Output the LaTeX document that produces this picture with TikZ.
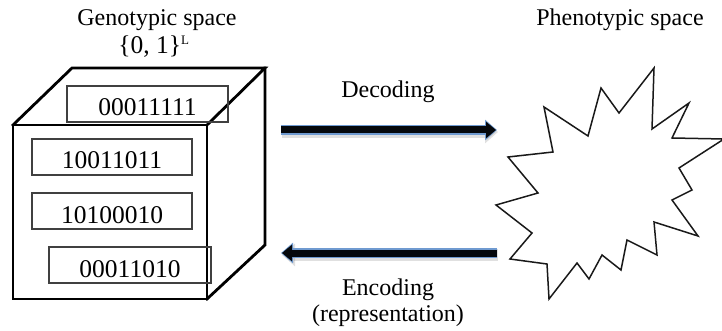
\documentclass[tikz,border=0pt]{standalone}
\usepackage{fontspec}
\setmainfont{Liberation Serif}
\usetikzlibrary{arrows.meta}
\definecolor{glow}{HTML}{6F9AD0}
\definecolor{core}{HTML}{05080C}
\begin{document}
\begin{tikzpicture}[x=1pt,y=-1pt,
  lbl/.style={font=\fontsize{24}{28}\selectfont, inner sep=0pt, anchor=base},
  bitbox/.style={draw=black!75, line width=1.3pt, minimum width=161pt, minimum height=36pt,
    inner sep=0pt, text height=24pt, text depth=0pt, font=\fontsize{25.5}{28}\selectfont},
  cubeline/.style={line width=2.8pt, line join=miter, line cap=rect},
  shadowarrow/.style={line width=12pt, draw=black, opacity=0.12, -{Triangle[length=13pt,width=22pt]}},
  glowarrow/.style={line width=10.5pt, draw=glow, -{Triangle[length=12pt,width=20pt]}},
  corearrow/.style={line width=7pt, draw=core, -{Triangle[length=10pt,width=16pt]}},
  starline/.style={draw=black!90, line width=1.5pt, line join=miter}
]
\useasboundingbox (0,0) rectangle (722,331);

% titles
\node[lbl] (geno) at (157,26) {Genotypic space};
\node[lbl, font=\fontsize{25.5}{28}\selectfont] (set) at (154,54) {\{0, 1\}\textsuperscript{\fontsize{13}{14}\selectfont L}};
\node[lbl] (pheno) at (620,26) {Phenotypic space};

% cube corners
\coordinate (ftl) at (13,125);
\coordinate (ftr) at (207,125);
\coordinate (fbr) at (207,299);
\coordinate (fbl) at (13,299);
\coordinate (btl) at (72,68);
\coordinate (btr) at (265,68);
\coordinate (bbr) at (265,245);

\draw[cubeline] (ftl) rectangle (fbr);
\draw[cubeline] (ftl) -- (btl) -- (btr) -- (ftr);
\draw[cubeline] (btr) -- (bbr) -- (fbr);

% bit strings
\node[bitbox] (b1) at (147.5,104) {00011111};
\node[bitbox, minimum width=160pt] (b2) at (112,157) {10011011};
\node[bitbox, minimum width=160pt] (b3) at (112,211) {10100010};
\node[bitbox, minimum width=162pt] (b4) at (130,265) {00011010};

% arrows
\coordinate (d1) at (281,130);
\coordinate (d2) at (497,130);
\coordinate (e1) at (497,253);
\coordinate (e2) at (281,253);
\coordinate (d1s) at (282,132);
\coordinate (d2s) at (498,132);
\coordinate (e1s) at (498,255);
\coordinate (e2s) at (282,255);
\draw[shadowarrow] (d1s) -- (d2s);
\draw[shadowarrow] (e1s) -- (e2s);
\draw[glowarrow] (d1) -- (d2);
\draw[corearrow, shorten >=1pt] (d1) -- (d2);
\draw[glowarrow] (e1) -- (e2);
\draw[corearrow, shorten >=1pt] (e1) -- (e2);

\node[lbl] (dec) at (388,98) {Decoding};
\node[lbl] (enc) at (388,295) {Encoding};
\node[lbl] (rep) at (388,321) {(representation)};

% star (phenotypic space)
\draw[starline] (496,205) -- (538,193) -- (508,157) -- (553,152) -- (544,107) -- (588,136)
  -- (601,88) -- (619,113) -- (654,68) -- (652,129) -- (689,103) -- (672,138)
  -- (724,139) -- (679,168) -- (692,190) -- (672,200) -- (698,236) -- (654,222)
  -- (657,255) -- (627,240) -- (621,270) -- (602,255) -- (589,279) -- (577,263)
  -- (549,299) -- (547,264) -- (510,259) -- (532,233) -- cycle;
\end{tikzpicture}
\end{document}
